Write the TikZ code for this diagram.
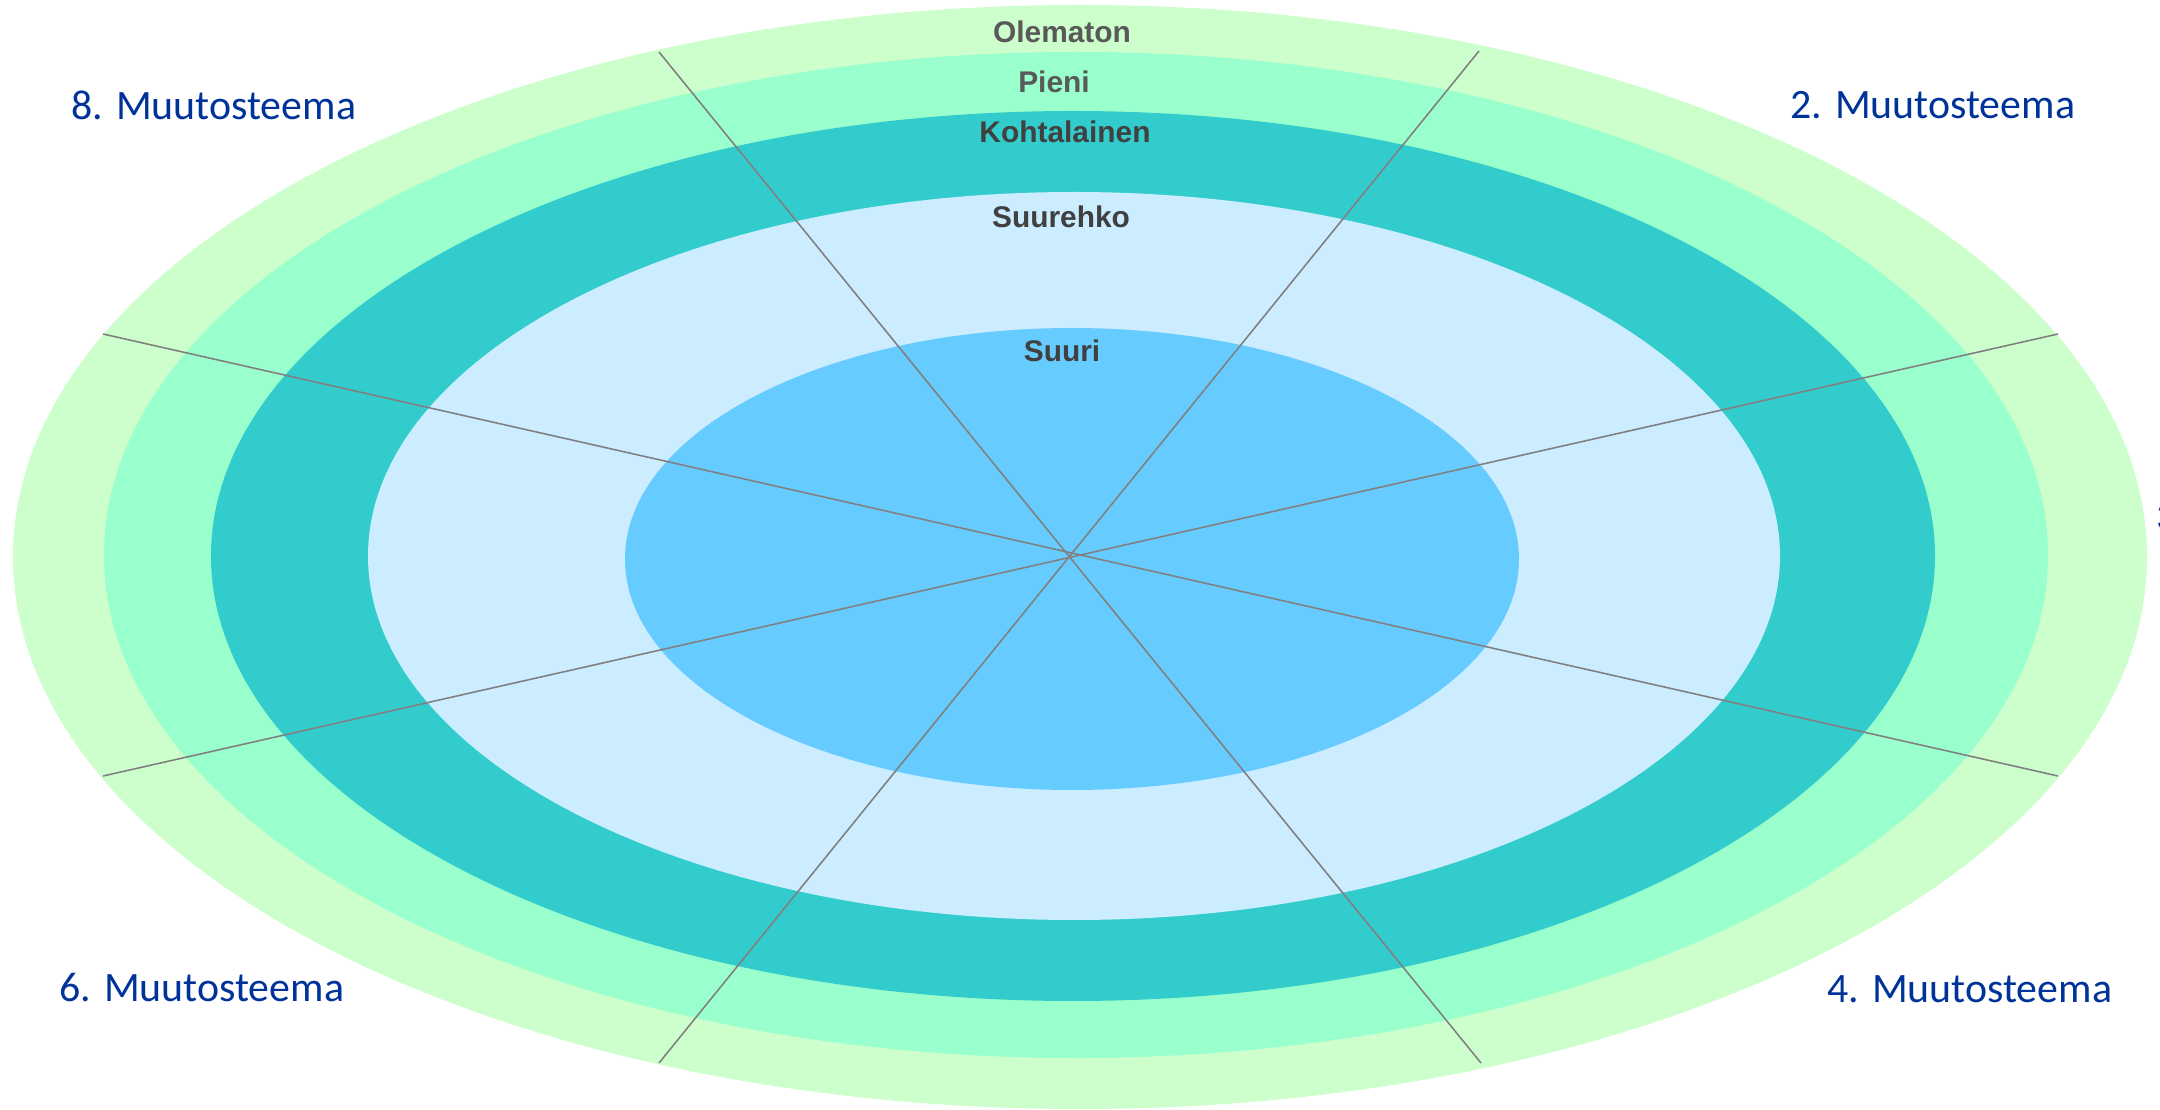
\documentclass[tikz,border=0pt]{standalone}
\usepackage{fontspec}
\setmainfont{Liberation Sans}
\newfontfamily\themefont{Carlito}
\definecolor{ringA}{HTML}{CCFFCC}
\definecolor{ringB}{HTML}{99FFCC}
\definecolor{ringC}{HTML}{33CCCC}
\definecolor{ringD}{HTML}{CCECFF}
\definecolor{ringE}{HTML}{66CCFF}
\definecolor{lightgray}{HTML}{595959}
\definecolor{darkgray}{HTML}{404040}
\definecolor{themeblue}{HTML}{003399}
\definecolor{divgray}{HTML}{808080}
\begin{document}
\begin{tikzpicture}[x=0.01cm, y=-0.01cm,
                    level/.style = {font=\bfseries\fontsize{8.5}{10}\selectfont, anchor=base, inner sep=0pt},
                    theme/.style = {font=\themefont\fontsize{11.9}{14}\selectfont, text=themeblue, anchor=base west, inner sep=0pt},
                    divider/.style = {draw=divgray, line width=0.45pt}]
                        \useasboundingbox (0,0) rectangle (2160,1110);
                        \clip (0,0) rectangle (2160,1110);

                        \fill[ringA] (1080,557) ellipse [x radius=1067, y radius=552];
                        \fill[ringB] (1076,555) ellipse [x radius=972, y radius=503];
                        \fill[ringC] (1073,556) ellipse [x radius=862, y radius=445];
                        \fill[ringD] (1074,556) ellipse [x radius=706, y radius=364];
                        \fill[ringE] (1072,559) ellipse [x radius=447, y radius=231];

                        \coordinate (n1) at (1479,51);
                        \coordinate (n2) at (2058,334);
                        \coordinate (n3) at (2058,776);
                        \coordinate (n4) at (1481,1063);
                        \coordinate (n5) at (659,1063);
                        \coordinate (n6) at (103,776);
                        \coordinate (n7) at (103,334);
                        \coordinate (n8) at (659,52);

                        \draw[divider] (n8) -- (n4);
                        \draw[divider] (n1) -- (n5);
                        \draw[divider] (n7) -- (n3);
                        \draw[divider] (n6) -- (n2);

                        \node[level, text=lightgray] (olematon) at (1062,42.5) {Olematon};
                        \node[level, text=lightgray] (pieni) at (1054,92.5) {Pieni};
                        \node[level, text=darkgray] (kohtalainen) at (1065,142.5) {Kohtalainen};
                        \node[level, text=darkgray] (suurehko) at (1061,228) {Suurehko};
                        \node[level, text=darkgray] (suuri) at (1062,361.5) {Suuri};

                        \node[theme] (t8) at (71,120) {8. Muutosteema};
                        \node[theme] (t2) at (1790,118.5) {2. Muutosteema};
                        \node[theme] (t3) at (2156,531) {3. Muutosteema};
                        \node[theme] (t6) at (59,1001.5) {6. Muutosteema};
                        \node[theme] (t4) at (1827,1002.5) {4. Muutosteema};
                    \end{tikzpicture}
\end{document}
